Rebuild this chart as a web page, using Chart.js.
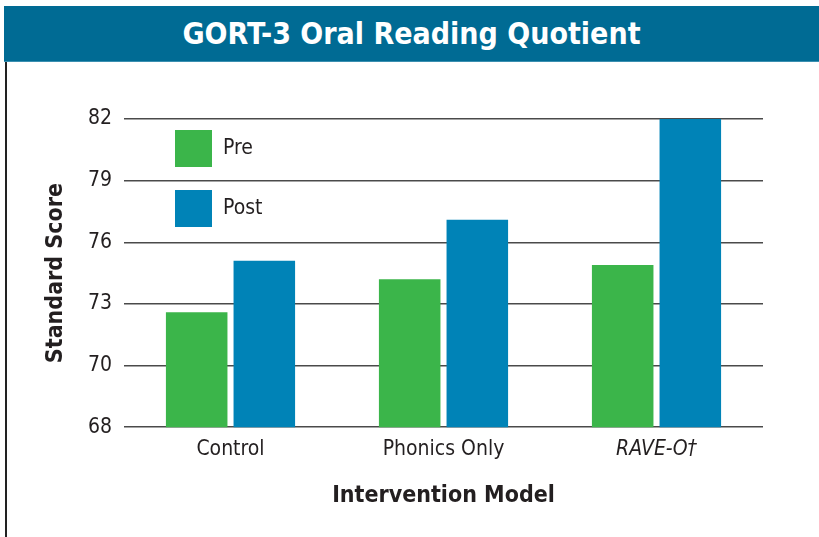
<!DOCTYPE html>
<html>
<head>
<meta charset="utf-8">
<script src="https://cdn.jsdelivr.net/npm/chart.js@4.4.0/dist/chart.umd.min.js"></script>
<style>
  body { margin: 0; background: #fff; }
  #wrap { position: relative; width: 819px; height: 537px; overflow: hidden; }
  #header {
    position: absolute; left: 4px; top: 6px; width: 815px; height: 56px;
    background: #006b94; border-bottom: 1px solid #3a8fb0;
    color: #fff; font: bold 30px "Liberation Sans Narrow", "DejaVu Sans Condensed", sans-serif;
    text-align: center; line-height: 56px; box-sizing: border-box;
  }
  #leftline { position: absolute; left: 5px; top: 62px; width: 2px; height: 475px; background: #222; }
  #box { position: absolute; left: 8px; top: 63px; width: 811px; height: 474px; }
</style>
</head>
<body>
<div id="wrap">
  <div id="header">GORT-3 Oral Reading Quotient</div>
  <div id="leftline"></div>
  <div id="box"><canvas id="myChart"></canvas></div>
</div>
<script>
var categories = ["Control", "Phonics Only", "RAVE-O\u2020"];
var preValues = [72.6, 74.2, 74.9];
var postValues = [75.1, 77.1, 82.0];
// axis is drawn evenly spaced; the bottom label reads 68 in the original
var tickLabels = ["68", "70", "73", "76", "79", "82"];

var fontFam = '"Liberation Sans Narrow", "DejaVu Sans Condensed", sans-serif';

//draw the Pre/Post boxes inside the plot, top left
var boxLegend = {
    id: 'boxLegend',
    afterDraw: function (chart) {
        var ctx = chart.ctx;
        var area = chart.chartArea;
        ctx.save();
        chart.data.datasets.forEach(function (ds, i) {
            var x = area.left + 51;
            var y = area.top + 11 + i * 60;
            ctx.fillStyle = ds.backgroundColor;
            ctx.fillRect(x, y, 37, 37);
            ctx.fillStyle = '#231f20';
            ctx.font = '21px ' + fontFam;
            ctx.textBaseline = 'middle';
            ctx.fillText(ds.label, x + 48, y + 19);
        });
        ctx.restore();
    }
};

var ctx = document.getElementById("myChart").getContext("2d");
var chart = new Chart(ctx, {
    type: 'bar',
    data: {
        labels: categories,
        datasets: [
            { label: "Pre", data: preValues, backgroundColor: '#3bb54a' },
            { label: "Post", data: postValues, backgroundColor: '#0083b7' }
        ]
    },
    options: {
        responsive: true,
        maintainAspectRatio: false,
        animation: false,
        categoryPercentage: 0.635,
        barPercentage: 0.91,
        layout: { padding: { top: 56, right: 56, bottom: 23, left: 30 } },
        plugins: {
            legend: { display: false },
            tooltip: { enabled: false }
        },
        scales: {
            x: {
                grid: { display: false },
                border: { display: false },
                ticks: {
                    color: '#231f20',
                    padding: 2,
                    font: function (c) {
                        return { family: fontFam, size: 21, style: c.index === 2 ? 'italic' : 'normal' };
                    }
                },
                title: {
                    display: true, text: 'Intervention Model', color: '#231f20',
                    font: { family: fontFam, size: 23, weight: 'bold' }, padding: { top: 18 }
                }
            },
            y: {
                min: 67, max: 82,
                afterFit: function (scale) { scale.width = 86; },
                border: { display: false },
                grid: { color: '#4a4a4a', lineWidth: 1.5, drawTicks: false },
                ticks: {
                    stepSize: 3, padding: 12, color: '#231f20',
                    font: { family: fontFam, size: 21 },
                    callback: function (v, i) { return tickLabels[i]; }
                },
                title: {
                    display: true, text: 'Standard Score', color: '#231f20',
                    font: { family: fontFam, size: 23, weight: 'bold' }
                }
            }
        }
    },
    plugins: [boxLegend]
});
</script>
</body>
</html>
